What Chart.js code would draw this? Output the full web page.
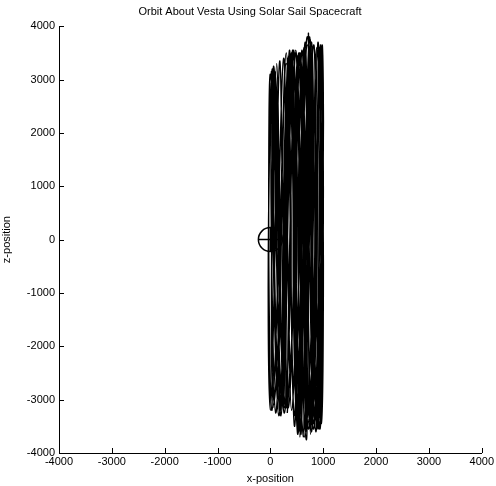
<!DOCTYPE html>
<html>
<head>
<meta charset="utf-8">
<script src="https://cdn.jsdelivr.net/npm/chart.js@4/dist/chart.umd.min.js"></script>
<style>
  html, body { margin: 0; padding: 0; background: #fff; }
  #wrap { width: 496px; height: 486px; }
</style>
</head>
<body>
<div id="wrap"><canvas id="orbit" width="496" height="486"></canvas></div>
<script>
// trajectory samples (x-position, z-position)
const orbitX = [
  50, 20, 40, 80, 160, 200,
  250, 230, 260, 350, 420, 450,
  520, 560, 600, 700, 760, 720,
  820, 900, 950, 930, 880, 860,
  750, 680, 640, 560, 500, 480,
  400, 350, 300, 250, 180, 120,
  30, -20, -30, 0, 80, 150,
  220, 260, 320, 420, 500, 540,
  620, 650, 700, 780, 820, 800,
  900, 960, 990, 960, 900, 870,
  780, 720, 660, 600, 540, 520,
  450, 400, 380, 300, 230, 180,
  100, 40, 10, 40, 120, 180,
  300, 340, 400, 480, 540, 580,
  680, 700, 740, 720, 760, 780,
  860, 920, 1000, 980, 930, 900,
  820, 760, 700, 640, 580, 560,
  500, 440, 420, 340, 280, 240,
  160, 80, 40, 60, 140, 200,
  280, 300, 360, 440, 480, 500,
  580, 620, 680, 760, 800, 820,
  940, 980, 960, 900, 850, 820,
  700, 640, 600, 520, 460, 420,
  340, 280, 220, 180, 120, 60,
  0, -40, -20, 20, 100, 140,
  240, 280, 340, 400, 460, 500,
  640, 680, 720, 820, 860, 880,
  960, 1000, 980, 880, 820, 780,
  660, 600, 560, 480, 400, 360,
  260, 200, 160, 120, 60, 20,
  60, 160, 220, 300, 360, 400,
  460, 520, 580, 660, 700, 720,
  760, 840, 900, 950, 960, 940,
  880, 820, 780, 700, 620, 580,
  540, 480, 440, 380, 320, 280,
  200, 140, 80, 20, 50, 100,
  180, 240, 300, 360, 420, 460,
  560, 600, 660, 740, 780, 800,
  920, 980, 1000, 940, 880, 840,
  720, 660, 620, 540, 480, 420,
  320
];
const orbitZ = [
  -3150, -1500, 1500, 3150, 1600, -1400,
  -3150, -1600, 1400, 3450, 1500, -1500,
  -3650, -1400, 1600, 3800, 1500, -1600,
  -3550, -1500, 1400, 3600, 1500, -1500,
  -3450, -1500, 1500, 3500, 1400, -1500,
  -3200, -1500, 1600, 3400, 1500, -1400,
  -3200, -1500, 1500, 3100, 1400, -1500,
  -3100, -1400, 1500, 3550, 1600, -1500,
  -3700, -1500, 1500, 3700, 1400, -1500,
  -3500, -1400, 1500, 3450, 1600, -1400,
  -3600, -1500, 1400, 3550, 1500, -1600,
  -3300, -1500, 1500, 3300, 1500, -1500,
  -3250, -1400, 1600, 3200, 1500, -1400,
  -3150, -1500, 1400, 3500, 1500, -1500,
  -3750, -1600, 1500, 3870, 1600, -1400,
  -3600, -1500, 1500, 3650, 1400, -1500,
  -3450, -1400, 1500, 3600, 1600, -1500,
  -3450, -1500, 1400, 3400, 1500, -1600,
  -3300, -1500, 1500, 3250, 1600, -1500,
  -3200, -1500, 1600, 3550, 1400, -1500,
  -3650, -1400, 1500, 3750, 1500, -1600,
  -3550, -1500, 1600, 3700, 1500, -1400,
  -3500, -1500, 1500, 3450, 1500, -1500,
  -3150, -1600, 1400, 3350, 1500, -1500,
  -3200, -1500, 1500, 3000, 1500, -1400,
  -3100, -1500, 1500, 3500, 1600, -1500,
  -3700, -1500, 1400, 3650, 1500, -1500,
  -3450, -1600, 1500, 3600, 1500, -1500,
  -3600, -1400, 1500, 3550, 1500, -1600,
  -3250, -1500, 1500, 3300, 1500, -1500,
  -3100, -1500, 1500, 3500, 1500, -1500,
  -3500, -1400, 1600, 3700, 1500, -1500,
  -3650, -1500, 1500, 3650, 1400, -1600,
  -3550, -1500, 1500, 3650, 1500, -1500,
  -3600, -1600, 1400, 3450, 1500, -1400,
  -3300, -1500, 1500, 3150, 1600, -1500,
  -3250, -1500, 1400, 3550, 1500, -1500,
  -3700, -1500, 1500, 3800, 1600, -1500,
  -3550, -1400, 1500, 3600, 1500, -1600,
  -3550, -1500, 1400, 3500, 1500, -1500,
  -3250
];
// Vesta marker at the origin
const vestaX = [0];
const vestaZ = [0];
const axisMin = -4000;
const axisMax = 4000;
const axisStep = 1000;

const orbitPoints = orbitX.map((x, i) => ({ x: x, y: orbitZ[i] }));
const vestaPoints = vestaX.map((x, i) => ({ x: x, y: vestaZ[i] }));

// MATLAB style: short tick marks pointing into the plot
const inwardTicks = {
  id: 'inwardTicks',
  afterDraw(chart) {
    const { ctx, chartArea, scales } = chart;
    ctx.save();
    ctx.strokeStyle = '#000';
    ctx.lineWidth = 1;
    ctx.beginPath();
    scales.x.ticks.forEach(t => {
      const px = Math.round(scales.x.getPixelForValue(t.value)) + 0.5;
      ctx.moveTo(px, chartArea.bottom);
      ctx.lineTo(px, chartArea.bottom - 5);
    });
    scales.y.ticks.forEach(t => {
      const py = Math.round(scales.y.getPixelForValue(t.value)) + 0.5;
      ctx.moveTo(chartArea.left, py);
      ctx.lineTo(chartArea.left + 5, py);
    });
    ctx.stroke();
    ctx.restore();
  }
};

const font = { family: 'Liberation Sans, Arial, sans-serif', size: 11 };
const plainTick = v => String(v);

new Chart(document.getElementById('orbit'), {
  type: 'scatter',
  data: {
    datasets: [
      {
        data: orbitPoints,
        showLine: true,
        borderColor: '#000',
        borderWidth: 1.4,
        pointRadius: 0,
        tension: 0.45
      },
      {
        data: vestaPoints,
        pointStyle: 'circle',
        pointRadius: 12,
        borderColor: '#000',
        backgroundColor: 'rgba(0,0,0,0)',
        pointBorderWidth: 1.5
      },
      {
        data: vestaPoints,
        pointStyle: 'cross',
        pointRadius: 12,
        borderColor: '#000',
        pointBorderWidth: 1.5
      }
    ]
  },
  options: {
    responsive: false,
    animation: false,
    layout: { padding: { right: -4 } },
    plugins: {
      legend: { display: false },
      tooltip: { enabled: false },
      title: {
        display: true,
        text: 'Orbit About Vesta Using Solar Sail Spacecraft',
        color: '#000',
        font: { family: font.family, size: 11, weight: 'normal' },
        padding: { top: 5, bottom: 8 }
      }
    },
    scales: {
      x: {
        type: 'linear',
        min: axisMin,
        max: axisMax,
        ticks: { stepSize: axisStep, color: '#000', font: font, padding: 2, maxRotation: 0, callback: plainTick },
        grid: { display: true, drawOnChartArea: false, drawTicks: false },
        border: { display: true, color: '#000', width: 1 },
        title: { display: true, text: 'x-position', color: '#000', font: font, padding: 0 },
        afterFit: s => { s.height = 33; }
      },
      y: {
        type: 'linear',
        min: axisMin,
        max: axisMax,
        ticks: { stepSize: axisStep, color: '#000', font: font, padding: 4, callback: plainTick },
        grid: { display: true, drawOnChartArea: false, drawTicks: false },
        border: { display: true, color: '#000', width: 1 },
        title: { display: true, text: 'z-position', color: '#000', font: font, padding: 0 },
        afterFit: s => { s.width = 59; }
      }
    }
  },
  plugins: [inwardTicks]
});
</script>
</body>
</html>
